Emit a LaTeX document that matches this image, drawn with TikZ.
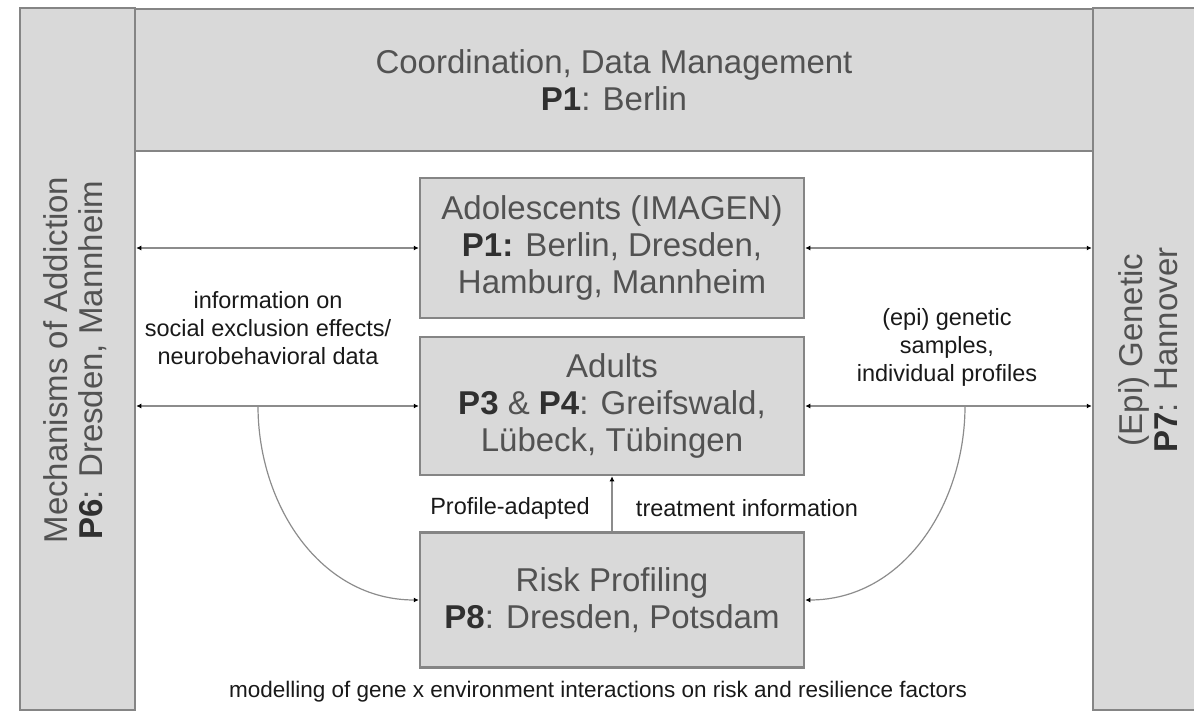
\documentclass[tikz,border=0pt]{standalone}
\usepackage{fontspec}
\setmainfont{Liberation Sans}
\usetikzlibrary{arrows.meta,positioning}
\definecolor{boxgray}{HTML}{D9D9D9}
\definecolor{linegray}{HTML}{858585}
\definecolor{textgray}{HTML}{525252}
\definecolor{boldgray}{HTML}{303030}
\newcommand{\proj}[1]{{\bfseries\color{boldgray}#1}}

\begin{document}
\begin{tikzpicture}
                [
                    x=1pt, y=-1pt,
                    framebox/.style={rectangle, draw=linegray, fill=boxgray, line width=2.5pt, inner sep=0pt},
                    projbox/.style={framebox, minimum width=384pt, text=textgray, align=center, font=\fontsize{33}{37}\selectfont},
                    sidetext/.style={rotate=90, text=textgray, align=center, font=\fontsize{33}{35}\selectfont},
                    infotext/.style={align=center, text=black!90, font=\fontsize{23.5}{28}\selectfont},
                    link/.style={draw=gray!90, line width=1.2pt, {Latex[length=5pt,width=5pt,black]}-{Latex[length=5pt,width=5pt,black]}},
                    feed/.style={draw=gray!90, line width=1.2pt, -{Latex[length=5pt,width=5pt,black]}},
                ]

                \useasboundingbox (0,0) rectangle (1194,712);
                \clip (0,0) rectangle (1194,712);

                % frame of partners
                \node [framebox, minimum width=115pt, minimum height=702pt] (mech) at (77.5,359) {};
                \node [framebox, minimum width=120pt, minimum height=702pt] (genetic) at (1153,359) {};
                \node [framebox, minimum width=958pt, minimum height=142pt, text=textgray, align=center, font=\fontsize{33}{37}\selectfont] (coord) at (614,80) {Coordination, Data Management\\\proj{P1}: Berlin};
                \node [sidetext] (mechtext) at (75,360) {Mechanisms of Addiction\\\proj{P6}: Dresden, Mannheim};
                \node [sidetext] (gentext) at (1148,350) {(Epi) Genetic\\\proj{P7}: Hannover};

                % central projects
                \node [projbox, minimum height=140pt] (ado) at (612,248) {Adolescents (IMAGEN)\\\proj{P1:} Berlin, Dresden,\\Hamburg, Mannheim};
                \node [projbox, minimum height=138pt] (adults) at (612,406) {Adults\\\proj{P3} \& \proj{P4}: Greifswald,\\Lübeck, Tübingen};
                \node [projbox, minimum height=135pt] (risk) at (612,600) {Risk Profiling\\\proj{P8}: Dresden, Potsdam};

                % labels
                \node [infotext] (excl) at (268,328) {information on\\social exclusion effects/\\neurobehavioral data};
                \node [infotext] (samples) at (947,347) {(epi) genetic\\samples,\\individual profiles};
                \node [infotext] (adapted) at (510,508) {Profile-adapted};
                \node [infotext] (treat) at (747,508) {treatment information};
                \node [infotext, font=\fontsize{22.5}{28}\selectfont] (model) at (598,692) {modelling of gene x environment interactions on risk and resilience factors};

                \coordinate (lsplit) at (258,406);
                \coordinate (rsplit) at (965,406);

                \draw[link] (mech.east |- ado.west) -- (ado.west);
                \draw[link] (ado.east) -- (genetic.west |- ado.east);
                \draw[link] (mech.east |- adults.west) -- (adults.west);
                \draw[link] (adults.east) -- (genetic.west |- adults.east);
                \draw[feed] (risk.north) -- (adults.south);
                \draw[feed] (lsplit) to[out=-90, in=180] (risk.west);
                \draw[feed] (rsplit) to[out=-90, in=0] (risk.east);

            \end{tikzpicture}
\end{document}
